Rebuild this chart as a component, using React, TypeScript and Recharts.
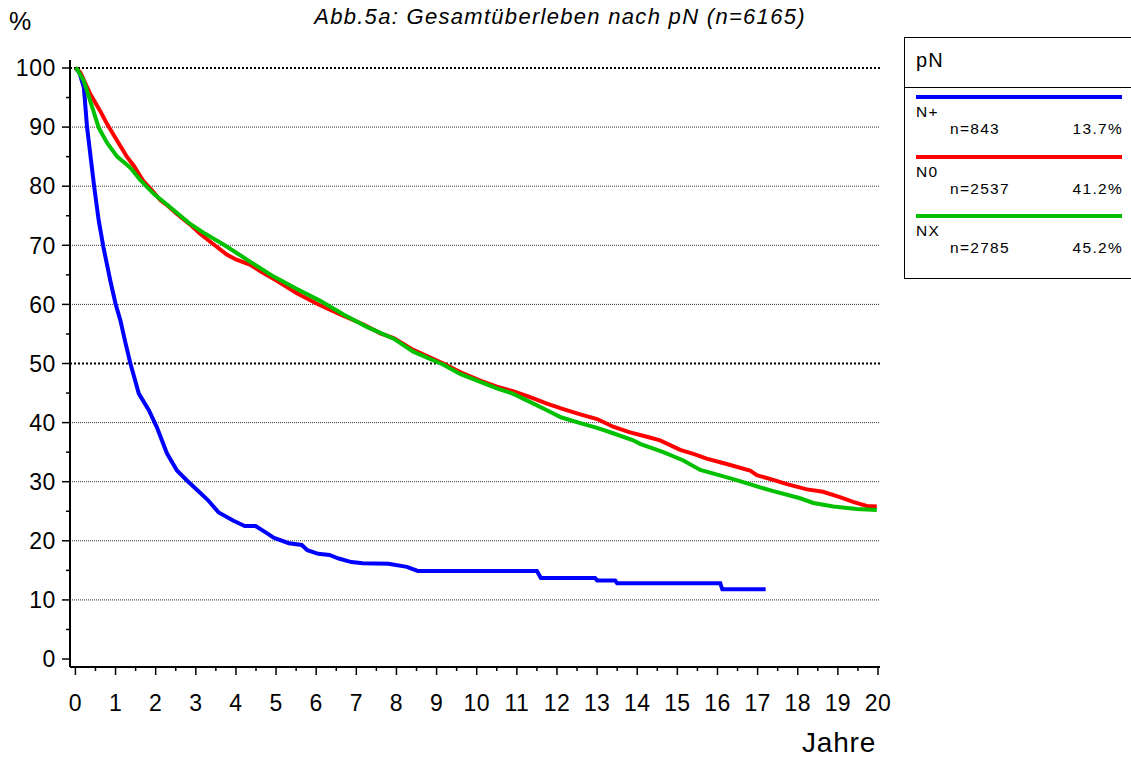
import { LineChart, Line, XAxis, YAxis, ReferenceLine } from 'recharts'

// Kaplan-Meier Kurven [Jahre, % überlebend]
const nPlus = [
  [0, 100], [0.1, 99.2], [0.21, 96.7], [0.29, 90], [0.39, 84.3], [0.47, 79.8], [0.58, 74.2],
  [0.7, 69.6], [0.87, 64], [1.0, 60.1], [1.12, 57.3], [1.25, 53.4], [1.37, 50], [1.58, 44.9],
  [1.83, 42.1], [2.03, 39.2], [2.28, 34.8], [2.53, 31.9], [2.78, 30.2], [3.0, 28.8], [3.3, 26.9],
  [3.57, 24.8], [3.94, 23.4], [4.22, 22.5], [4.49, 22.5], [4.77, 21.3], [4.95, 20.5], [5.32, 19.6],
  [5.64, 19.3], [5.78, 18.4], [6.05, 17.8], [6.33, 17.6], [6.56, 17.0], [6.88, 16.4], [7.16, 16.2],
  [7.8, 16.1], [8.26, 15.6], [8.53, 14.9], [11.5, 14.9], [11.6, 13.7], [12.95, 13.7], [13.0, 13.3],
  [13.45, 13.3], [13.5, 12.8], [16.07, 12.8], [16.12, 11.8], [17.2, 11.8],
]

const n0 = [
  [0, 100], [0.12, 99.3], [0.37, 95.6], [0.62, 92.7], [0.79, 90.5], [1.04, 87.7], [1.29, 84.9],
  [1.45, 83.5], [1.7, 80.8], [1.87, 79.6], [2.12, 77.6], [2.28, 76.8], [2.53, 75.3], [2.86, 73.5],
  [3.1, 72.0], [3.36, 70.6], [3.78, 68.4], [4.0, 67.6], [4.36, 66.7], [4.61, 65.6], [5.02, 64.0],
  [5.52, 61.9], [6.02, 60.1], [6.6, 58.3], [7.18, 56.6], [7.6, 55.1], [7.93, 54.3], [8.42, 52.3],
  [9.17, 50.0], [9.6, 48.5], [10.09, 47.1], [10.5, 46.1], [10.9, 45.3], [11.3, 44.4], [11.75, 43.2],
  [12.1, 42.4], [12.58, 41.4], [13.0, 40.6], [13.4, 39.3], [13.8, 38.4], [14.24, 37.6], [14.57, 37.0],
  [15.07, 35.4], [15.4, 34.7], [15.73, 33.9], [16.23, 33.0], [16.81, 31.9], [16.98, 31.1],
  [17.39, 30.3], [17.73, 29.6], [18.23, 28.7], [18.63, 28.3], [19.05, 27.4], [19.38, 26.6],
  [19.72, 25.9], [19.97, 25.8],
]

const nX = [
  [0, 100], [0.04, 99.8], [0.21, 97.8], [0.37, 94.4], [0.58, 89.9], [0.79, 87.3], [1.04, 85.0],
  [1.29, 83.6], [1.37, 83.1], [1.62, 81.0], [1.95, 78.7], [2.28, 76.9], [2.37, 76.4], [2.86, 73.6],
  [3.2, 72.1], [3.7, 70.1], [4.36, 67.2], [4.94, 64.7], [5.52, 62.6], [6.1, 60.6], [6.68, 58.3],
  [7.26, 56.2], [7.93, 54.2], [8.42, 52.0], [9.17, 49.8], [9.6, 48.2], [10.09, 46.9], [10.5, 45.8],
  [10.9, 44.9], [11.3, 43.6], [11.75, 42.1], [12.1, 40.9], [12.58, 39.9], [13.0, 39.1], [13.4, 38.2],
  [13.9, 37.0], [14.07, 36.4], [14.65, 35.0], [15.15, 33.6], [15.57, 32.0], [16.15, 30.9],
  [16.56, 30.1], [16.98, 29.2], [17.39, 28.4], [18.06, 27.2], [18.39, 26.4], [18.89, 25.8],
  [19.47, 25.4], [19.97, 25.2],
]

const groups = ['N+', 'N0', 'NX']
const counts = [843, 2537, 2785]
const shares = ['13.7%', '41.2%', '45.2%']
const colors = ['#0000ff', '#ff0000', '#00c000']

const xTicks = Array.from({ length: 41 }, (_, i) => i / 2)
const yTicks = Array.from({ length: 21 }, (_, i) => i * 5)
const thinGrid = [10, 20, 30, 40, 60, 70, 80, 90]
const boldGrid = [50, 100]

const FONT = '"Liberation Sans", Arial, sans-serif'
const AXIS_X = 70
const AXIS_Y = 667

const toRows = (pts: number[][]) => pts.map(([t, v]) => ({ t, v }))
const series = [nPlus, n0, nX].map(toRows)

const YTick = ({ y, payload }: any) => {
  const major = payload.value % 10 === 0
  return (
    <g>
      <line x1={AXIS_X - (major ? 8 : 4)} x2={AXIS_X} y1={y} y2={y} stroke="#000" strokeWidth={1.5} />
      {major && (
        <text x={56} y={y} dy="0.36em" textAnchor="end" fontSize={23} letterSpacing={0.6} fontFamily={FONT} fill="#000">
          {payload.value}
        </text>
      )}
    </g>
  )
}

const XTick = ({ x, payload }: any) => {
  const major = Number.isInteger(payload.value)
  return (
    <g>
      <line x1={x} x2={x} y1={AXIS_Y} y2={AXIS_Y + (major ? 8 : 4)} stroke="#000" strokeWidth={1.5} />
      {major && (
        <text x={x} y={711} textAnchor="middle" fontSize={23} letterSpacing={0.4} fontFamily={FONT} fill="#000">
          {payload.value}
        </text>
      )}
    </g>
  )
}

function LegendBox() {
  const txt = { position: 'absolute' as const, fontSize: 15.5, letterSpacing: 1.3 }
  return (
    <div
      style={{
        position: 'absolute', left: 904, top: 37, width: 260, height: 240,
        border: '1px solid #000', background: '#fff', fontFamily: FONT, color: '#000',
      }}
    >
      <div style={{ position: 'absolute', left: 11, top: 11, fontSize: 20, letterSpacing: 1.2 }}>pN</div>
      <div style={{ position: 'absolute', left: 0, top: 49, width: '100%', borderTop: '1px solid #000' }} />
      {groups.map((g, i) => (
        <div key={g} style={{ position: 'absolute', left: 0, top: 57 + i * 59.5, width: 240, height: 59 }}>
          <div style={{ position: 'absolute', left: 11, top: 0, width: 206, height: 4, background: colors[i] }} />
          <div style={{ ...txt, left: 11, top: 8 }}>{g}</div>
          <div style={{ ...txt, left: 45, top: 25 }}>n={counts[i]}</div>
          <div style={{ ...txt, right: 22, top: 25 }}>{shares[i]}</div>
        </div>
      ))}
    </div>
  )
}

export default function App() {
  return (
    <div style={{ position: 'absolute', left: 0, top: 0, width: 1131, height: 765, background: '#fff', overflow: 'hidden' }}>
      <div style={{ position: 'absolute', left: 9, top: 7, fontSize: 25, fontFamily: FONT }}>%</div>
      <div
        style={{
          position: 'absolute', left: 0, top: 4, width: 1120, textAlign: 'center',
          fontSize: 22, letterSpacing: 1.3, fontStyle: 'italic', fontFamily: FONT,
        }}
      >
        Abb.5a: Gesamtüberleben nach pN (n=6165)
      </div>
      <LineChart
        width={1131}
        height={765}
        margin={{ top: 60, right: 251, left: 0, bottom: 68 }}
      >
        <XAxis
          type="number"
          dataKey="t"
          domain={[-0.135, 20.05]}
          ticks={xTicks}
          interval={0}
          allowDataOverflow
          height={30}
          axisLine={{ stroke: '#000', strokeWidth: 2 }}
          tickLine={false}
          tick={<XTick />}
        />
        <YAxis
          type="number"
          dataKey="v"
          domain={[-1.35, 101.35]}
          ticks={yTicks}
          interval={0}
          allowDataOverflow
          width={70}
          axisLine={{ stroke: '#000', strokeWidth: 2 }}
          tickLine={false}
          tick={<YTick />}
        />
        {thinGrid.map((v) => (
          <ReferenceLine key={v} y={v} stroke="#333" strokeWidth={1} strokeDasharray="1 1" />
        ))}
        {boldGrid.map((v) => (
          <ReferenceLine key={v} y={v} stroke="#000" strokeWidth={2} strokeDasharray="2 2" />
        ))}
        {series.map((d, i) => (
          <Line
            key={groups[i]}
            data={d}
            dataKey="v"
            name={groups[i]}
            type="linear"
            stroke={colors[i]}
            strokeWidth={4}
            dot={false}
            isAnimationActive={false}
          />
        ))}
      </LineChart>
      <div style={{ position: 'absolute', left: 802, top: 727, fontSize: 28, letterSpacing: 0.8, fontFamily: FONT }}>Jahre</div>
      <LegendBox />
    </div>
  )
}
